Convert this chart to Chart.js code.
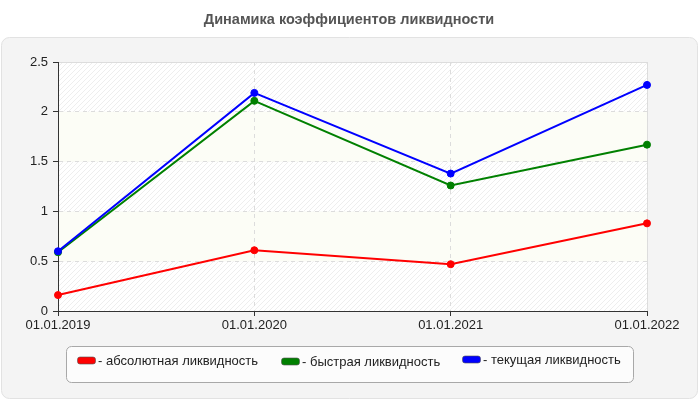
<!DOCTYPE html>
<html>
<head>
<meta charset="utf-8">
<script src="https://cdn.jsdelivr.net/npm/chart.js@4/dist/chart.umd.min.js"></script>
<style>
html,body{margin:0;padding:0;background:#fff;}
#wrap{width:700px;height:400px;position:relative;}
</style>
</head>
<body>
<div id="wrap"><canvas id="c" width="700" height="400"></canvas></div>
<script>
const TITLE = 'Динамика коэффициентов ликвидности';
const categories = ['01.01.2019', '01.01.2020', '01.01.2021', '01.01.2022'];
const absoluteLiquidity = [0.16, 0.61, 0.47, 0.88];
const quickLiquidity = [0.59, 2.11, 1.26, 1.67];
const currentLiquidity = [0.60, 2.19, 1.38, 2.27];
const seriesNames = ['- абсолютная ликвидность', '- быстрая ликвидность', '- текущая ликвидность'];
const seriesColors = ['#ff0000', '#008000', '#0000ff'];
const yTicks = [0, 0.5, 1, 1.5, 2, 2.5];
const yTickLabels = ['0', '0.5', '1', '1.5', '2', '2.5'];

const FONT = '"Liberation Sans", Arial, sans-serif';

function roundRect(ctx, x, y, w, h, r) {
  ctx.beginPath();
  ctx.moveTo(x + r, y);
  ctx.lineTo(x + w - r, y);
  ctx.arcTo(x + w, y, x + w, y + r, r);
  ctx.lineTo(x + w, y + h - r);
  ctx.arcTo(x + w, y + h, x + w - r, y + h, r);
  ctx.lineTo(x + r, y + h);
  ctx.arcTo(x, y + h, x, y + h - r, r);
  ctx.lineTo(x, y + r);
  ctx.arcTo(x, y, x + r, y, r);
  ctx.closePath();
}

function makeHatch() {
  const s = 5;
  const pc = document.createElement('canvas');
  pc.width = s; pc.height = s;
  const p = pc.getContext('2d');
  p.fillStyle = '#ffffff';
  p.fillRect(0, 0, s, s);
  p.strokeStyle = '#eeeeee';
  p.lineWidth = 1;
  p.beginPath();
  p.moveTo(-1, s + 1); p.lineTo(s + 1, -1);
  p.moveTo(-1, 1); p.lineTo(1, -1);
  p.moveTo(s - 1, s + 1); p.lineTo(s + 1, s - 1);
  p.stroke();
  return p;
}

const decor = {
  id: 'decor',
  beforeDraw(chart) {
    const ctx = chart.ctx;
    ctx.save();
    ctx.fillStyle = '#ffffff';
    ctx.fillRect(0, 0, chart.width, chart.height);
    // panel
    roundRect(ctx, 1.5, 37.5, 696, 361, 8);
    ctx.fillStyle = '#f4f4f4';
    ctx.fill();
    ctx.strokeStyle = '#e2e2e2';
    ctx.lineWidth = 1;
    ctx.stroke();
    // title
    ctx.fillStyle = '#555555';
    ctx.font = 'bold 14.5px ' + FONT;
    ctx.textAlign = 'center';
    ctx.textBaseline = 'middle';
    ctx.fillText(TITLE, 349, 20);
    // plot background bands
    const a = chart.chartArea;
    const y = chart.scales.y;
    const hatch = ctx.createPattern(makeHatch().canvas, 'repeat');
    for (let i = 0; i < yTicks.length - 1; i++) {
      const y0 = y.getPixelForValue(yTicks[i]);
      const y1 = y.getPixelForValue(yTicks[i + 1]);
      ctx.fillStyle = (i % 2 === 0) ? hatch : '#fcfdf6';
      ctx.fillRect(a.left, y1, a.right - a.left, y0 - y1);
    }
    // frame top/right
    ctx.strokeStyle = '#dddddd';
    ctx.beginPath();
    ctx.moveTo(a.left, Math.round(a.top) + 0.5);
    ctx.lineTo(Math.round(a.right) + 0.5, Math.round(a.top) + 0.5);
    ctx.lineTo(Math.round(a.right) + 0.5, a.bottom);
    ctx.stroke();
    ctx.restore();
  },
  afterDraw(chart) {
    const ctx = chart.ctx;
    ctx.save();
    // legend box
    roundRect(ctx, 66.5, 346.5, 567, 36, 5);
    ctx.fillStyle = '#fcfcfc';
    ctx.fill();
    ctx.strokeStyle = '#a8a8a8';
    ctx.lineWidth = 1;
    ctx.stroke();
    const xs = [77, 281, 462];
    const ys = [360.5, 361.5, 359.5];
    ctx.font = '13px ' + FONT;
    ctx.textBaseline = 'middle';
    ctx.textAlign = 'left';
    chart.data.datasets.forEach((ds, i) => {
      const k = ds.legendIndex;
      roundRect(ctx, xs[k] + 0.5, ys[k] - 3.5, 18, 7, 2.5);
      ctx.fillStyle = ds.borderColor;
      ctx.fill();
      ctx.strokeStyle = 'rgba(80,80,80,0.6)';
      ctx.stroke();
      ctx.fillStyle = '#222222';
      ctx.fillText(ds.label, xs[k] + 21, ys[k] + 0.5);
    });
    ctx.restore();
  }
};

const seriesData = [absoluteLiquidity, quickLiquidity, currentLiquidity];
const datasets = seriesData.map((d, i) => ({
  label: seriesNames[i],
  data: d,
  legendIndex: i,
  order: 2 - i,
  borderColor: seriesColors[i],
  backgroundColor: seriesColors[i],
  pointBackgroundColor: seriesColors[i],
  pointBorderColor: seriesColors[i],
  borderWidth: 2,
  pointRadius: 3.5,
  pointBorderWidth: 1,
  tension: 0,
  fill: false
}));

new Chart(document.getElementById('c'), {
  type: 'line',
  data: { labels: categories, datasets: datasets },
  options: {
    responsive: false,
    animation: false,
    devicePixelRatio: 1,
    layout: { padding: { left: 0, right: 53, top: 62, bottom: 69 } },
    plugins: { legend: { display: false }, title: { display: false }, tooltip: { enabled: false } },
    scales: {
      x: {
        offset: false,
        afterFit(s) { s.height = 20; },
        grid: { color: '#dcdcdc', tickColor: '#333333', tickLength: 5, lineWidth: 1, drawOnChartArea: true },
        border: { display: true, color: '#333333', width: 1, dash: [4, 4] },
        ticks: { color: '#222222', font: { family: FONT, size: 13 }, padding: 2, maxRotation: 0, autoSkip: false }
      },
      y: {
        min: 0, max: 2.5,
        afterFit(s) { s.width = 58; },
        afterBuildTicks(s) { s.ticks = yTicks.map(v => ({ value: v })); },
        grid: { color: '#dcdcdc', tickColor: '#333333', tickLength: 5, lineWidth: 1 },
        border: { display: true, color: '#333333', width: 1, dash: [4, 4] },
        ticks: {
          color: '#222222', font: { family: FONT, size: 13 }, padding: 5,
          callback(v, i) { return yTickLabels[yTicks.indexOf(v)]; }
        }
      }
    }
  },
  plugins: [decor]
});
</script>
</body>
</html>
